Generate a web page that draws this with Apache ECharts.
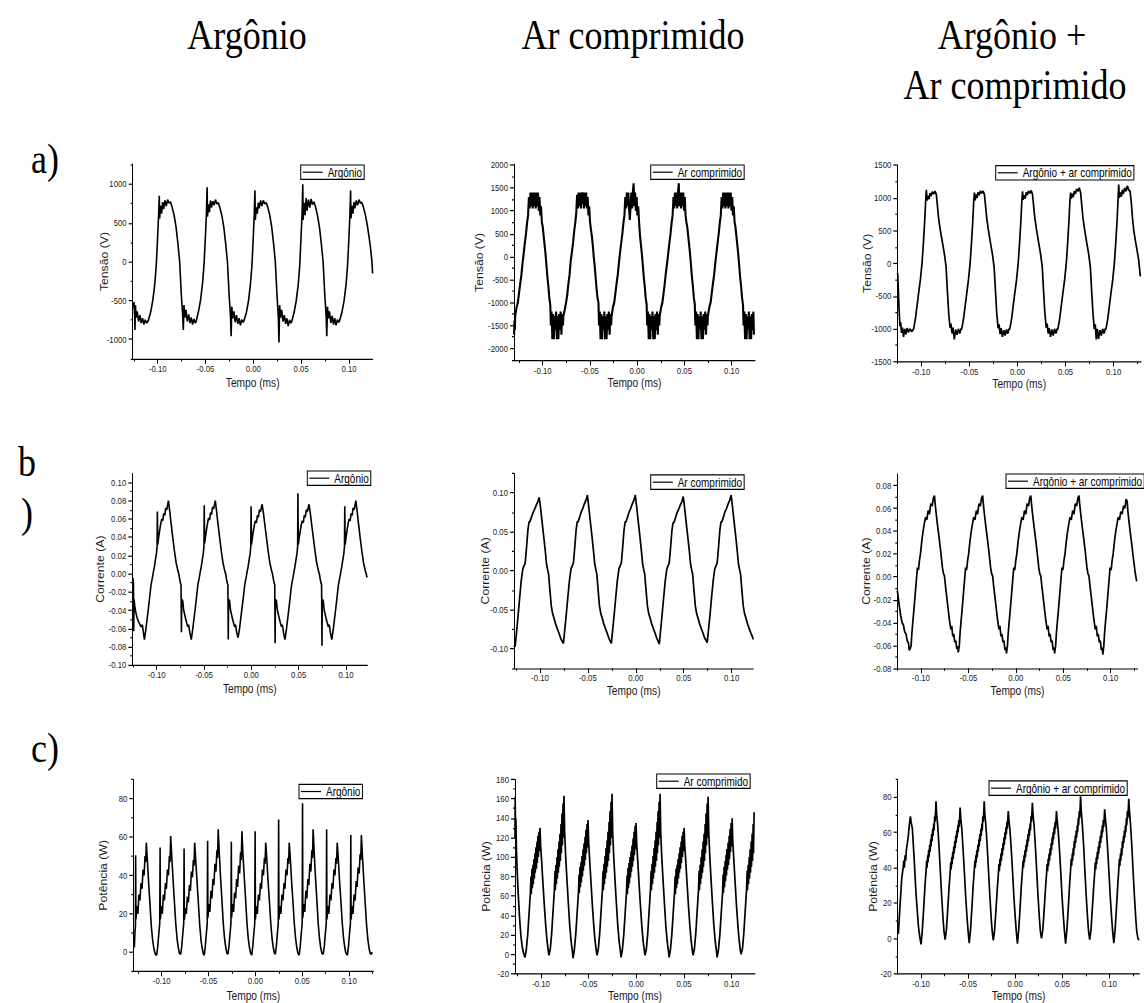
<!DOCTYPE html>
<html>
<head>
<meta charset="utf-8">
<script src="https://cdn.jsdelivr.net/npm/echarts@6/dist/echarts.min.js"></script>
<style>
  html, body { margin: 0; padding: 0; background: #fff; }
  #page { width: 1144px; height: 1003px; overflow: hidden; position: relative; }
  /* the figure is laid out 1144 x 836 and stretched vertically to fill 1003 px */
  #chart { position: absolute; left: 0; top: 0; width: 1144px; height: 836px; transform: scaleY(1.2); transform-origin: 0 0; }
</style>
</head>
<body>
<div id="page"><div id="chart"></div></div>
<script>
// ---------- labels ----------
const NAMES = ['Argônio', 'Ar comprimido', 'Argônio + ar comprimido'];
const Y_TITLES = ['Tensão (V)', 'Corrente (A)', 'Potência (W)'];
const X_TITLE = 'Tempo (ms)';

// ---------- tick values ----------
const xTicks = [-0.10, -0.05, 0, 0.05, 0.10];
const xMinorTicks = [-0.125, -0.075, -0.025, 0.025, 0.075, 0.125];

const tensaoArgonioTicks = [-1000, -500, 0, 500, 1000];
const tensaoArgonioMinor = [-1250, -750, -250, 250, 750, 1250];
const tensaoArTicks = [-2000, -1500, -1000, -500, 0, 500, 1000, 1500, 2000];
const tensaoArMinor = [-2250, -1750, -1250, -750, -250, 250, 750, 1250, 1750];
const tensaoMixTicks = [-1500, -1000, -500, 0, 500, 1000, 1500];
const tensaoMixMinor = [-1250, -750, -250, 250, 750, 1250];
const correnteArgonioTicks = [-0.10, -0.08, -0.06, -0.04, -0.02, 0, 0.02, 0.04, 0.06, 0.08, 0.10];
const correnteArgonioMinor = [-0.09, -0.07, -0.05, -0.03, -0.01, 0.01, 0.03, 0.05, 0.07, 0.09];
const correnteArTicks = [-0.10, -0.05, 0, 0.05, 0.10];
const correnteArMinor = [-0.125, -0.075, -0.025, 0.025, 0.075, 0.125];
const correnteMixTicks = [-0.08, -0.06, -0.04, -0.02, 0, 0.02, 0.04, 0.06, 0.08];
const correnteMixMinor = [-0.07, -0.05, -0.03, -0.01, 0.01, 0.03, 0.05, 0.07];
const potenciaArgonioTicks = [0, 20, 40, 60, 80];
const potenciaArgonioMinor = [-10, 10, 30, 50, 70, 90];
const potenciaArTicks = [-20, 0, 20, 40, 60, 80, 100, 120, 140, 160, 180];
const potenciaArMinor = [-10, 10, 30, 50, 70, 90, 110, 130, 150, 170];
const potenciaMixTicks = [-20, 0, 20, 40, 60, 80];
const potenciaMixMinor = [-10, 10, 30, 50, 70, 90];

// ---------- waveforms: [tempo (ms), valor] ----------
const tensaoArgonio = [
[-0.1254,-600],[-0.1247,-520],[-0.1241,-700],[-0.1237,-880],[-0.1233,-560],[-0.1225,-720],[-0.1214,-640],[-0.1200,-770],[-0.1186,-690],[-0.1172,-790],[-0.1158,-730],[-0.1144,-810],[-0.1130,-750],[-0.1114,-790],
[-0.1098,-760],[-0.1073,-650],[-0.1051,-500],[-0.1031,-300],[-0.1015,-50],[-0.1001,300],[-0.0991,580],[-0.0983,850],[-0.0979,560],[-0.0969,720],[-0.0959,620],[-0.0948,770],[-0.0938,680],[-0.0924,790],[-0.0910,720],[-0.0896,800],[-0.0882,760],[-0.0865,770],[-0.0848,700],[-0.0828,600],[-0.0808,450],[-0.0788,230],[-0.0770,0],[-0.0753,-420],[-0.0739,-680],[-0.0732,-880],[-0.0725,-560],[-0.0715,-720],[-0.0704,-620],[-0.0690,-770],[-0.0676,-680],[-0.0662,-790],[-0.0649,-720],[-0.0635,-810],[-0.0621,-740],[-0.0607,-790],
[-0.0598,-770],[-0.0573,-640],[-0.0551,-490],[-0.0531,-280],[-0.0515,-30],[-0.0501,320],[-0.0491,600],[-0.0483,960],[-0.0479,580],[-0.0469,740],[-0.0459,640],[-0.0448,790],[-0.0438,700],[-0.0424,780],[-0.0410,730],[-0.0396,800],[-0.0382,750],[-0.0365,760],[-0.0348,690],[-0.0328,590],[-0.0308,440],[-0.0288,220],[-0.0270,-10],[-0.0253,-430],[-0.0239,-690],[-0.0232,-960],[-0.0225,-580],[-0.0215,-730],[-0.0204,-640],[-0.0190,-780],[-0.0176,-690],[-0.0162,-800],[-0.0149,-730],[-0.0135,-820],[-0.0121,-750],[-0.0107,-780],
[-0.0098,-760],[-0.0073,-660],[-0.0051,-510],[-0.0031,-300],[-0.0015,-60],[-0.0001,300],[0.0009,590],[0.0017,920],[0.0021,540],[0.0031,700],[0.0041,620],[0.0052,760],[0.0062,690],[0.0076,790],[0.0090,720],[0.0104,790],[0.0118,750],[0.0135,760],[0.0152,700],[0.0172,600],[0.0192,450],[0.0212,230],[0.0230,0],[0.0247,-420],[0.0261,-700],[0.0268,-1040],[0.0275,-560],[0.0285,-720],[0.0296,-620],[0.0310,-770],[0.0324,-690],[0.0338,-800],[0.0351,-730],[0.0365,-830],[0.0379,-750],[0.0393,-790],
[0.0402,-770],[0.0427,-650],[0.0449,-500],[0.0469,-300],[0.0485,-50],[0.0499,320],[0.0509,600],[0.0517,1000],[0.0521,540],[0.0531,760],[0.0541,600],[0.0552,820],[0.0562,660],[0.0576,800],[0.0590,700],[0.0604,810],[0.0618,740],[0.0635,770],[0.0652,700],[0.0672,590],[0.0692,440],[0.0712,220],[0.0730,-10],[0.0747,-430],[0.0761,-690],[0.0768,-960],[0.0775,-580],[0.0785,-730],[0.0796,-640],[0.0810,-790],[0.0824,-700],[0.0838,-810],[0.0851,-730],[0.0865,-820],[0.0879,-750],[0.0893,-780],
[0.0902,-760],[0.0927,-650],[0.0949,-500],[0.0969,-300],[0.0985,-50],[0.0999,300],[0.1009,580],[0.1017,920],[0.1021,560],[0.1031,720],[0.1041,620],[0.1052,770],[0.1062,690],[0.1076,790],[0.1090,730],[0.1104,800],[0.1118,760],[0.1135,760],[0.1152,700],[0.1172,600],[0.1192,470],[0.1212,300],[0.1228,150],[0.1240,0],[0.1247,-150]
];

const tensaoAr = [
[-0.1303,-1700],[-0.1299,-1400],[-0.1295,-1600],
[-0.1292,-1300],[-0.1276,-1100],[-0.1263,-1000],[-0.1251,-800],[-0.1239,-600],[-0.1226,-400],[-0.1214,-150],[-0.1201,80],[-0.1189,300],[-0.1177,500],[-0.1165,750],[-0.1155,900],[-0.1146,1300],[-0.1138,1050],[-0.1130,1400],[-0.1122,1100],[-0.1114,1400],[-0.1106,1050],[-0.1098,1400],[-0.1090,1100],[-0.1082,1400],[-0.1074,1050],[-0.1066,1400],[-0.1058,1100],[-0.1050,1400],[-0.1042,1000],[-0.1034,1300],[-0.1026,900],[-0.1018,1100],[-0.1009,750],[-0.1000,650],[-0.0990,450],[-0.0980,250],[-0.0970,50],[-0.0960,-200],[-0.0950,-450],[-0.0940,-650],[-0.0930,-900],[-0.0920,-1050],[-0.0914,-1500],[-0.0906,-1200],[-0.0898,-1800],[-0.0890,-1250],[-0.0882,-1800],[-0.0874,-1300],[-0.0866,-1600],[-0.0858,-1200],[-0.0850,-1800],[-0.0842,-1300],[-0.0834,-1800],[-0.0826,-1250],[-0.0818,-1600],[-0.0810,-1200],[-0.0802,-1700],[-0.0794,-1250],[-0.0786,-1500],
[-0.0782,-1300],[-0.0766,-1150],[-0.0753,-1000],[-0.0741,-850],[-0.0729,-600],[-0.0716,-400],[-0.0704,-100],[-0.0691,100],[-0.0679,300],[-0.0667,550],[-0.0655,750],[-0.0645,950],[-0.0636,1350],[-0.0628,1050],[-0.0620,1400],[-0.0612,1100],[-0.0604,1400],[-0.0596,1050],[-0.0588,1400],[-0.0580,1150],[-0.0572,1400],[-0.0564,1050],[-0.0556,1400],[-0.0548,1100],[-0.0540,1400],[-0.0532,1050],[-0.0524,1300],[-0.0516,900],[-0.0508,1100],[-0.0499,750],[-0.0490,600],[-0.0480,450],[-0.0470,250],[-0.0460,0],[-0.0450,-200],[-0.0440,-450],[-0.0430,-700],[-0.0420,-900],[-0.0410,-1000],[-0.0404,-1500],[-0.0396,-1200],[-0.0388,-1800],[-0.0380,-1250],[-0.0372,-1800],[-0.0364,-1300],[-0.0356,-1600],[-0.0348,-1200],[-0.0340,-1800],[-0.0332,-1300],[-0.0324,-1800],[-0.0316,-1250],[-0.0308,-1600],[-0.0300,-1200],[-0.0292,-1700],[-0.0284,-1250],[-0.0276,-1500],
[-0.0272,-1300],[-0.0256,-1100],[-0.0243,-1000],[-0.0231,-800],[-0.0219,-600],[-0.0206,-400],[-0.0194,-150],[-0.0181,100],[-0.0169,300],[-0.0157,500],[-0.0145,750],[-0.0135,900],[-0.0126,1300],[-0.0118,1050],[-0.0110,1400],[-0.0102,1100],[-0.0094,1400],[-0.0086,1050],[-0.0078,800],[-0.0070,1100],[-0.0062,1400],[-0.0054,1050],[-0.0046,1400],[-0.0038,1600],[-0.0030,1100],[-0.0022,1400],[-0.0014,1000],[-0.0006,1300],[0.0002,900],[0.0011,1100],[0.0020,750],[0.0030,450],[0.0040,250],[0.0050,50],[0.0060,-200],[0.0070,-450],[0.0080,-650],[0.0090,-900],[0.0100,-1050],[0.0106,-1500],[0.0114,-1200],[0.0122,-1800],[0.0130,-1250],[0.0138,-1800],[0.0146,-1300],[0.0154,-1600],[0.0162,-1200],[0.0170,-1800],[0.0178,-1300],[0.0186,-1800],[0.0194,-1250],[0.0202,-1600],[0.0210,-1200],[0.0218,-1700],[0.0226,-1250],[0.0234,-1500],
[0.0238,-1300],[0.0254,-1100],[0.0267,-1000],[0.0279,-800],[0.0291,-600],[0.0304,-350],[0.0316,-150],[0.0329,80],[0.0341,300],[0.0353,500],[0.0365,750],[0.0375,900],[0.0384,1300],[0.0392,1050],[0.0400,1400],[0.0408,1100],[0.0416,1400],[0.0424,1050],[0.0432,1400],[0.0440,1600],[0.0448,1100],[0.0456,1400],[0.0464,1050],[0.0472,1400],[0.0480,1100],[0.0488,1400],[0.0496,1000],[0.0504,1300],[0.0512,900],[0.0521,750],[0.0530,650],[0.0540,450],[0.0550,250],[0.0560,50],[0.0570,-200],[0.0580,-450],[0.0590,-650],[0.0600,-900],[0.0610,-1050],[0.0616,-1500],[0.0624,-1200],[0.0632,-1800],[0.0640,-1250],[0.0648,-1800],[0.0656,-1300],[0.0664,-1600],[0.0672,-1200],[0.0680,-1800],[0.0688,-1300],[0.0696,-1800],[0.0704,-1250],[0.0712,-1600],[0.0720,-1200],[0.0728,-1700],[0.0736,-1250],[0.0744,-1500],
[0.0748,-1300],[0.0764,-1100],[0.0777,-1000],[0.0789,-800],[0.0801,-600],[0.0814,-400],[0.0826,-150],[0.0839,80],[0.0851,300],[0.0863,500],[0.0875,750],[0.0885,900],[0.0894,1300],[0.0902,1050],[0.0910,1400],[0.0918,1100],[0.0926,1400],[0.0934,1050],[0.0942,1400],[0.0950,1100],[0.0958,1400],[0.0966,1050],[0.0974,1400],[0.0982,1100],[0.0990,1400],[0.0998,1000],[0.1006,1300],[0.1014,900],[0.1022,1100],[0.1031,750],[0.1040,650],[0.1050,450],[0.1060,250],[0.1070,50],[0.1080,-200],[0.1090,-450],[0.1100,-650],[0.1110,-900],[0.1120,-1050],[0.1126,-1500],[0.1134,-1200],[0.1142,-1800],[0.1150,-1250],[0.1158,-1800],[0.1166,-1300],[0.1174,-1600],[0.1182,-1200],[0.1190,-1800],[0.1198,-1300],[0.1206,-1800],[0.1214,-1250],[0.1222,-1600],[0.1230,-1200],[0.1236,-1700]
];

const tensaoMix = [
[-0.1246,-150],[-0.1238,-450],[-0.1230,-750],[-0.1222,-960],[-0.1215,-900],[-0.1206,-1060],[-0.1196,-980],[-0.1185,-1120],[-0.1172,-1000],[-0.1160,-1080],[-0.1148,-990],[-0.1134,-1050],[-0.1120,-1000],[-0.1100,-1040],
[-0.1080,-1000],[-0.1062,-850],[-0.1045,-650],[-0.1028,-450],[-0.1010,-250],[-0.0993,0],[-0.0979,300],[-0.0965,650],[-0.0955,950],[-0.0948,1120],[-0.0941,960],[-0.0931,1030],[-0.0920,980],[-0.0910,1070],[-0.0899,1030],[-0.0886,1090],[-0.0872,1060],[-0.0858,1100],[-0.0844,1050],[-0.0834,900],[-0.0820,680],[-0.0802,500],[-0.0782,330],[-0.0761,150],[-0.0743,-50],[-0.0730,-400],[-0.0716,-750],[-0.0702,-980],[-0.0692,-920],[-0.0681,-1070],[-0.0671,-980],[-0.0657,-1160],[-0.0643,-1010],[-0.0629,-1090],[-0.0615,-1000],[-0.0601,-1070],[-0.0588,-1000],
[-0.0580,-1000],[-0.0562,-850],[-0.0545,-660],[-0.0528,-460],[-0.0510,-250],[-0.0493,0],[-0.0479,300],[-0.0465,650],[-0.0455,950],[-0.0448,1080],[-0.0441,960],[-0.0431,1050],[-0.0420,1000],[-0.0410,1080],[-0.0399,1040],[-0.0386,1100],[-0.0372,1070],[-0.0358,1100],[-0.0344,1050],[-0.0334,900],[-0.0320,690],[-0.0302,500],[-0.0282,320],[-0.0261,140],[-0.0243,-60],[-0.0230,-400],[-0.0216,-760],[-0.0202,-990],[-0.0192,-930],[-0.0181,-1080],[-0.0171,-990],[-0.0157,-1120],[-0.0143,-1020],[-0.0129,-1100],[-0.0115,-1010],[-0.0101,-1070],[-0.0088,-1000],
[-0.0080,-1000],[-0.0062,-850],[-0.0045,-650],[-0.0028,-450],[-0.0010,-250],[0.0007,0],[0.0021,300],[0.0035,650],[0.0045,950],[0.0052,1100],[0.0059,970],[0.0069,1040],[0.0080,990],[0.0090,1080],[0.0101,1040],[0.0114,1100],[0.0128,1070],[0.0142,1110],[0.0156,1050],[0.0166,900],[0.0180,690],[0.0198,510],[0.0218,330],[0.0239,150],[0.0257,-50],[0.0270,-400],[0.0284,-750],[0.0298,-980],[0.0308,-920],[0.0319,-1070],[0.0329,-990],[0.0343,-1120],[0.0357,-1010],[0.0371,-1100],[0.0385,-1000],[0.0399,-1070],[0.0412,-1000],
[0.0420,-1000],[0.0438,-850],[0.0455,-650],[0.0472,-450],[0.0490,-250],[0.0507,0],[0.0521,300],[0.0535,650],[0.0545,950],[0.0552,1080],[0.0559,990],[0.0569,1060],[0.0580,1010],[0.0590,1100],[0.0601,1060],[0.0614,1130],[0.0628,1100],[0.0642,1150],[0.0656,1080],[0.0666,920],[0.0680,700],[0.0698,510],[0.0718,330],[0.0739,150],[0.0757,-50],[0.0770,-400],[0.0784,-750],[0.0798,-1000],[0.0808,-930],[0.0819,-1160],[0.0829,-1000],[0.0843,-1150],[0.0857,-1020],[0.0871,-1100],[0.0885,-1000],[0.0899,-1070],[0.0912,-1000],
[0.0920,-1000],[0.0938,-850],[0.0955,-650],[0.0972,-450],[0.0990,-250],[0.1007,0],[0.1021,300],[0.1035,650],[0.1045,950],[0.1052,1200],[0.1059,1000],[0.1069,1080],[0.1080,1020],[0.1090,1120],[0.1101,1060],[0.1114,1150],[0.1128,1100],[0.1142,1180],[0.1156,1120],[0.1170,1100],[0.1182,950],[0.1195,700],[0.1208,510],[0.1225,350],[0.1243,200],[0.1260,50],[0.1277,-200]
];

const correnteArgonio = [
[-0.1257,-0.004],[-0.1250,-0.006],[-0.1246,-0.010],[-0.1243,-0.063],[-0.1240,-0.028],[-0.1232,-0.035],[-0.1222,-0.042],[-0.1208,-0.048],[-0.1194,-0.052],[-0.1180,-0.055],[-0.1165,-0.058],[-0.1152,-0.056],[-0.1141,-0.064],
[-0.1130,-0.072],[-0.1116,-0.062],[-0.1102,-0.050],[-0.1088,-0.038],[-0.1074,-0.025],[-0.1060,-0.012],[-0.1045,-0.004],[-0.1035,0.002],[-0.1024,0.008],[-0.1014,0.015],[-0.1003,0.022],[-0.0996,0.030],[-0.0993,0.068],[-0.0989,0.032],[-0.0979,0.040],[-0.0968,0.048],[-0.0957,0.055],[-0.0947,0.060],[-0.0936,0.058],[-0.0926,0.066],[-0.0915,0.064],[-0.0905,0.072],[-0.0894,0.070],[-0.0876,0.080],[-0.0862,0.068],[-0.0848,0.055],[-0.0831,0.040],[-0.0813,0.025],[-0.0795,0.012],[-0.0778,0.004],[-0.0767,0.000],[-0.0757,-0.006],[-0.0750,-0.010],[-0.0743,-0.012],[-0.0739,-0.064],[-0.0736,-0.028],[-0.0725,-0.030],[-0.0715,-0.040],[-0.0704,-0.045],[-0.0693,-0.050],[-0.0683,-0.054],[-0.0672,-0.058],[-0.0662,-0.056],[-0.0651,-0.064],
[-0.0635,-0.072],[-0.0621,-0.062],[-0.0607,-0.050],[-0.0593,-0.038],[-0.0579,-0.025],[-0.0565,-0.012],[-0.0550,-0.004],[-0.0540,0.002],[-0.0529,0.008],[-0.0519,0.015],[-0.0508,0.022],[-0.0501,0.030],[-0.0498,0.075],[-0.0494,0.033],[-0.0484,0.041],[-0.0473,0.049],[-0.0462,0.056],[-0.0452,0.061],[-0.0441,0.059],[-0.0431,0.067],[-0.0420,0.065],[-0.0410,0.073],[-0.0399,0.071],[-0.0381,0.080],[-0.0367,0.068],[-0.0353,0.055],[-0.0336,0.040],[-0.0318,0.025],[-0.0300,0.012],[-0.0283,0.004],[-0.0272,0.000],[-0.0262,-0.006],[-0.0255,-0.010],[-0.0248,-0.012],[-0.0244,-0.072],[-0.0241,-0.028],[-0.0230,-0.030],[-0.0220,-0.040],[-0.0209,-0.045],[-0.0198,-0.050],[-0.0188,-0.054],[-0.0177,-0.058],[-0.0167,-0.056],[-0.0156,-0.064],
[-0.0140,-0.070],[-0.0126,-0.061],[-0.0112,-0.049],[-0.0098,-0.037],[-0.0084,-0.025],[-0.0070,-0.012],[-0.0055,-0.004],[-0.0045,0.002],[-0.0034,0.008],[-0.0024,0.015],[-0.0013,0.022],[-0.0006,0.030],[-0.0003,0.074],[0.0001,0.032],[0.0011,0.040],[0.0022,0.047],[0.0033,0.054],[0.0043,0.058],[0.0054,0.056],[0.0064,0.064],[0.0075,0.062],[0.0085,0.070],[0.0096,0.068],[0.0114,0.076],[0.0128,0.066],[0.0142,0.054],[0.0159,0.040],[0.0177,0.025],[0.0195,0.012],[0.0212,0.004],[0.0223,0.000],[0.0233,-0.006],[0.0240,-0.010],[0.0247,-0.012],[0.0251,-0.076],[0.0254,-0.028],[0.0265,-0.030],[0.0275,-0.040],[0.0286,-0.045],[0.0297,-0.050],[0.0307,-0.054],[0.0318,-0.058],[0.0328,-0.056],[0.0339,-0.064],
[0.0355,-0.072],[0.0369,-0.062],[0.0383,-0.050],[0.0397,-0.038],[0.0411,-0.025],[0.0425,-0.012],[0.0440,-0.004],[0.0450,0.002],[0.0461,0.008],[0.0471,0.015],[0.0482,0.022],[0.0489,0.030],[0.0492,0.088],[0.0496,0.032],[0.0506,0.040],[0.0517,0.047],[0.0528,0.054],[0.0538,0.058],[0.0549,0.056],[0.0559,0.064],[0.0570,0.062],[0.0580,0.070],[0.0591,0.068],[0.0609,0.076],[0.0623,0.066],[0.0637,0.054],[0.0654,0.040],[0.0672,0.025],[0.0690,0.012],[0.0707,0.004],[0.0718,0.000],[0.0728,-0.006],[0.0735,-0.010],[0.0742,-0.012],[0.0746,-0.079],[0.0749,-0.028],[0.0760,-0.030],[0.0770,-0.040],[0.0781,-0.045],[0.0792,-0.050],[0.0802,-0.054],[0.0813,-0.058],[0.0823,-0.056],[0.0834,-0.064],
[0.0850,-0.072],[0.0864,-0.062],[0.0878,-0.050],[0.0892,-0.038],[0.0906,-0.025],[0.0920,-0.012],[0.0935,-0.004],[0.0945,0.002],[0.0956,0.008],[0.0966,0.015],[0.0977,0.022],[0.0984,0.030],[0.0987,0.074],[0.0991,0.032],[0.1001,0.040],[0.1012,0.048],[0.1023,0.055],[0.1033,0.060],[0.1044,0.058],[0.1054,0.066],[0.1065,0.064],[0.1075,0.072],[0.1086,0.070],[0.1104,0.080],[0.1118,0.068],[0.1132,0.055],[0.1149,0.040],[0.1167,0.025],[0.1185,0.012],[0.1202,0.004],[0.1213,0.000],[0.1222,-0.004]
];

const correnteAr = [
[-0.1271,-0.098],[-0.1265,-0.097],
[-0.1258,-0.096],[-0.1244,-0.078],[-0.1230,-0.060],[-0.1213,-0.036],[-0.1195,-0.012],[-0.1178,0.003],[-0.1164,0.007],[-0.1154,0.010],[-0.1140,0.030],[-0.1126,0.052],[-0.1115,0.062],[-0.1105,0.063],[-0.1091,0.068],[-0.1074,0.074],[-0.1056,0.079],[-0.1039,0.084],[-0.1021,0.089],[-0.1008,0.094],[-0.0994,0.081],[-0.0980,0.065],[-0.0962,0.045],[-0.0945,0.026],[-0.0931,0.008],[-0.0921,0.002],[-0.0910,-0.004],[-0.0896,-0.025],[-0.0882,-0.045],[-0.0868,-0.055],[-0.0855,-0.060],[-0.0837,-0.068],[-0.0820,-0.074],[-0.0802,-0.080],[-0.0785,-0.086],[-0.0771,-0.090],
[-0.0755,-0.093],[-0.0741,-0.075],[-0.0727,-0.058],[-0.0710,-0.035],[-0.0692,-0.012],[-0.0675,0.003],[-0.0661,0.007],[-0.0651,0.010],[-0.0637,0.030],[-0.0623,0.052],[-0.0612,0.062],[-0.0602,0.063],[-0.0588,0.068],[-0.0571,0.075],[-0.0553,0.080],[-0.0536,0.086],[-0.0518,0.091],[-0.0505,0.097],[-0.0491,0.082],[-0.0477,0.066],[-0.0459,0.046],[-0.0442,0.026],[-0.0428,0.008],[-0.0418,0.002],[-0.0407,-0.004],[-0.0393,-0.025],[-0.0379,-0.045],[-0.0365,-0.055],[-0.0352,-0.060],[-0.0334,-0.068],[-0.0317,-0.074],[-0.0299,-0.080],[-0.0282,-0.086],[-0.0268,-0.090],
[-0.0255,-0.093],[-0.0241,-0.075],[-0.0227,-0.058],[-0.0210,-0.035],[-0.0192,-0.012],[-0.0175,0.003],[-0.0161,0.007],[-0.0151,0.010],[-0.0137,0.030],[-0.0123,0.052],[-0.0112,0.062],[-0.0102,0.063],[-0.0088,0.068],[-0.0071,0.075],[-0.0053,0.080],[-0.0036,0.086],[-0.0018,0.091],[-0.0005,0.097],[0.0009,0.082],[0.0023,0.066],[0.0041,0.046],[0.0058,0.026],[0.0072,0.008],[0.0082,0.002],[0.0093,-0.004],[0.0107,-0.025],[0.0121,-0.045],[0.0135,-0.055],[0.0148,-0.060],[0.0166,-0.068],[0.0183,-0.074],[0.0201,-0.080],[0.0218,-0.086],[0.0232,-0.090],
[0.0245,-0.094],[0.0259,-0.076],[0.0273,-0.058],[0.0290,-0.035],[0.0308,-0.012],[0.0325,0.003],[0.0339,0.007],[0.0349,0.010],[0.0363,0.030],[0.0377,0.052],[0.0388,0.061],[0.0398,0.062],[0.0412,0.067],[0.0429,0.074],[0.0447,0.079],[0.0464,0.084],[0.0482,0.089],[0.0495,0.095],[0.0509,0.081],[0.0523,0.065],[0.0541,0.045],[0.0558,0.026],[0.0572,0.008],[0.0582,0.002],[0.0593,-0.004],[0.0607,-0.025],[0.0621,-0.045],[0.0635,-0.055],[0.0648,-0.060],[0.0666,-0.068],[0.0683,-0.074],[0.0701,-0.080],[0.0718,-0.086],[0.0732,-0.089],
[0.0745,-0.092],[0.0759,-0.075],[0.0773,-0.058],[0.0790,-0.035],[0.0808,-0.012],[0.0825,0.003],[0.0839,0.007],[0.0849,0.010],[0.0863,0.030],[0.0877,0.052],[0.0888,0.062],[0.0898,0.063],[0.0912,0.068],[0.0929,0.075],[0.0947,0.080],[0.0964,0.086],[0.0982,0.091],[0.0995,0.097],[0.1009,0.082],[0.1023,0.066],[0.1041,0.046],[0.1058,0.026],[0.1072,0.008],[0.1082,0.002],[0.1093,-0.004],[0.1107,-0.025],[0.1121,-0.045],[0.1135,-0.055],[0.1148,-0.060],[0.1166,-0.068],[0.1183,-0.074],[0.1201,-0.080],[0.1218,-0.085],[0.1226,-0.088]
];

const correnteMix = [
[-0.1250,-0.012],[-0.1240,-0.018],[-0.1228,-0.026],[-0.1214,-0.034],[-0.1200,-0.040],[-0.1186,-0.042],[-0.1172,-0.048],[-0.1158,-0.050],[-0.1145,-0.056],[-0.1132,-0.058],[-0.1124,-0.064],
[-0.1115,-0.063],[-0.1104,-0.060],[-0.1097,-0.050],[-0.1087,-0.040],[-0.1076,-0.030],[-0.1062,-0.016],[-0.1048,-0.002],[-0.1038,0.008],[-0.1027,0.006],[-0.1017,0.014],[-0.1006,0.020],[-0.0992,0.031],[-0.0978,0.040],[-0.0964,0.047],[-0.0953,0.052],[-0.0939,0.050],[-0.0925,0.058],[-0.0911,0.055],[-0.0897,0.064],[-0.0883,0.062],[-0.0869,0.069],[-0.0858,0.071],[-0.0851,0.064],[-0.0841,0.056],[-0.0827,0.046],[-0.0809,0.034],[-0.0792,0.022],[-0.0774,0.008],[-0.0764,0.003],[-0.0753,0.001],[-0.0742,-0.008],[-0.0728,-0.018],[-0.0714,-0.028],[-0.0700,-0.038],[-0.0686,-0.046],[-0.0676,-0.043],[-0.0665,-0.052],[-0.0655,-0.050],[-0.0644,-0.057],[-0.0633,-0.056],[-0.0623,-0.063],[-0.0612,-0.061],
[-0.0607,-0.066],[-0.0596,-0.060],[-0.0589,-0.050],[-0.0579,-0.040],[-0.0568,-0.030],[-0.0554,-0.016],[-0.0540,-0.002],[-0.0530,0.008],[-0.0519,0.006],[-0.0509,0.014],[-0.0498,0.020],[-0.0484,0.031],[-0.0470,0.040],[-0.0456,0.047],[-0.0445,0.052],[-0.0431,0.050],[-0.0417,0.058],[-0.0403,0.055],[-0.0389,0.064],[-0.0375,0.062],[-0.0361,0.069],[-0.0350,0.071],[-0.0343,0.064],[-0.0333,0.056],[-0.0319,0.046],[-0.0301,0.034],[-0.0284,0.022],[-0.0266,0.008],[-0.0256,0.003],[-0.0245,0.001],[-0.0234,-0.008],[-0.0220,-0.018],[-0.0206,-0.028],[-0.0192,-0.038],[-0.0178,-0.046],[-0.0168,-0.043],[-0.0157,-0.052],[-0.0147,-0.050],[-0.0136,-0.057],[-0.0125,-0.056],[-0.0115,-0.064],[-0.0104,-0.062],
[-0.0099,-0.067],[-0.0088,-0.060],[-0.0081,-0.050],[-0.0071,-0.040],[-0.0060,-0.030],[-0.0046,-0.016],[-0.0032,-0.002],[-0.0022,0.008],[-0.0011,0.006],[-0.0001,0.014],[0.0010,0.020],[0.0024,0.031],[0.0038,0.040],[0.0052,0.047],[0.0063,0.052],[0.0077,0.050],[0.0091,0.058],[0.0105,0.055],[0.0119,0.064],[0.0133,0.062],[0.0147,0.069],[0.0158,0.071],[0.0165,0.064],[0.0175,0.056],[0.0189,0.046],[0.0207,0.034],[0.0224,0.022],[0.0242,0.008],[0.0252,0.003],[0.0263,0.001],[0.0274,-0.008],[0.0288,-0.018],[0.0302,-0.028],[0.0316,-0.038],[0.0330,-0.046],[0.0340,-0.043],[0.0351,-0.052],[0.0361,-0.050],[0.0372,-0.057],[0.0383,-0.056],[0.0393,-0.064],[0.0404,-0.062],
[0.0409,-0.067],[0.0420,-0.060],[0.0427,-0.050],[0.0437,-0.040],[0.0448,-0.030],[0.0462,-0.016],[0.0476,-0.002],[0.0486,0.008],[0.0497,0.006],[0.0507,0.014],[0.0518,0.020],[0.0532,0.031],[0.0546,0.040],[0.0560,0.047],[0.0571,0.052],[0.0585,0.050],[0.0599,0.058],[0.0613,0.055],[0.0627,0.064],[0.0641,0.062],[0.0655,0.069],[0.0666,0.071],[0.0673,0.064],[0.0683,0.056],[0.0697,0.046],[0.0715,0.034],[0.0732,0.022],[0.0750,0.008],[0.0760,0.003],[0.0771,0.001],[0.0782,-0.008],[0.0796,-0.018],[0.0810,-0.028],[0.0824,-0.038],[0.0838,-0.046],[0.0848,-0.043],[0.0859,-0.052],[0.0869,-0.050],[0.0880,-0.057],[0.0891,-0.056],[0.0901,-0.064],[0.0912,-0.062],
[0.0917,-0.068],[0.0928,-0.060],[0.0935,-0.050],[0.0945,-0.040],[0.0956,-0.030],[0.0970,-0.016],[0.0984,-0.002],[0.0994,0.008],[0.1005,0.006],[0.1015,0.014],[0.1026,0.020],[0.1040,0.031],[0.1054,0.040],[0.1068,0.047],[0.1079,0.052],[0.1093,0.050],[0.1107,0.057],[0.1121,0.055],[0.1135,0.062],[0.1149,0.060],[0.1163,0.068],[0.1174,0.066],[0.1181,0.058],[0.1191,0.050],[0.1205,0.040],[0.1223,0.028],[0.1240,0.016],[0.1258,0.004],[0.1274,-0.004]
];

const potenciaArgonio = [
[-0.1292,2.5],[-0.1286,10],[-0.1280,14],[-0.1278,50.5],[-0.1275,17],[-0.1264,24],[-0.1254,20],[-0.1243,30],[-0.1232,27],[-0.1221,36],[-0.1210,33],[-0.1199,43],[-0.1188,40],[-0.1178,50],[-0.1171,47],[-0.1164,57],[-0.1153,48],[-0.1139,36],[-0.1124,24],[-0.1110,13],[-0.1096,6],[-0.1082,1.5],[-0.1068,-1],
[-0.1053,-1.5],[-0.1042,3],[-0.1032,9],[-0.1021,15],[-0.1017,54.5],[-0.1014,17],[-0.1003,24],[-0.0993,20],[-0.0982,30],[-0.0971,27],[-0.0960,36],[-0.0950,33],[-0.0939,43],[-0.0928,40],[-0.0918,50],[-0.0911,47],[-0.0904,60.5],[-0.0893,50],[-0.0879,38],[-0.0864,26],[-0.0850,15],[-0.0836,7],[-0.0822,2],[-0.0811,-0.5],
[-0.0797,-1],[-0.0786,3],[-0.0776,9],[-0.0765,15],[-0.0761,54],[-0.0758,17],[-0.0747,23],[-0.0737,20],[-0.0726,29],[-0.0715,26],[-0.0704,35],[-0.0694,32],[-0.0683,42],[-0.0672,39],[-0.0662,48],[-0.0655,45],[-0.0648,57],[-0.0637,48],[-0.0623,37],[-0.0608,25],[-0.0594,14],[-0.0580,6],[-0.0566,1.5],[-0.0555,-1],
[-0.0546,-1.5],[-0.0535,3],[-0.0525,9],[-0.0514,15],[-0.0510,58],[-0.0507,18],[-0.0496,25],[-0.0486,21],[-0.0475,32],[-0.0464,28],[-0.0453,38],[-0.0443,35],[-0.0432,46],[-0.0421,42],[-0.0411,53],[-0.0404,49],[-0.0397,64],[-0.0386,52],[-0.0372,39],[-0.0357,27],[-0.0343,15],[-0.0329,7],[-0.0315,2],[-0.0304,-0.5],
[-0.0293,-1],[-0.0282,3],[-0.0272,9],[-0.0261,15],[-0.0257,57.5],[-0.0254,18],[-0.0243,25],[-0.0233,21],[-0.0222,31],[-0.0211,28],[-0.0200,38],[-0.0190,34],[-0.0179,45],[-0.0168,41],[-0.0158,52],[-0.0151,48],[-0.0144,63],[-0.0133,51],[-0.0119,39],[-0.0104,27],[-0.0090,15],[-0.0076,7],[-0.0062,2],[-0.0051,-0.5],
[-0.0039,-1.5],[-0.0028,3],[-0.0018,9],[-0.0007,15],[-0.0003,63],[0.0000,17],[0.0011,24],[0.0021,20],[0.0032,30],[0.0043,27],[0.0054,36],[0.0064,33],[0.0075,43],[0.0086,40],[0.0096,49],[0.0103,46],[0.0110,57],[0.0121,49],[0.0135,37],[0.0150,26],[0.0164,15],[0.0178,7],[0.0192,2],[0.0203,-0.5],
[0.0212,-1],[0.0223,3],[0.0233,9],[0.0244,15],[0.0248,69],[0.0251,17],[0.0262,24],[0.0272,20],[0.0283,30],[0.0294,27],[0.0305,36],[0.0315,33],[0.0326,43],[0.0337,40],[0.0347,49],[0.0354,46],[0.0361,57],[0.0372,49],[0.0386,37],[0.0401,26],[0.0415,15],[0.0429,7],[0.0443,2],[0.0454,-0.5],
[0.0467,-1.5],[0.0478,3],[0.0488,9],[0.0499,15],[0.0503,77.5],[0.0506,18],[0.0517,25],[0.0527,21],[0.0538,32],[0.0549,28],[0.0560,38],[0.0570,35],[0.0581,46],[0.0592,42],[0.0602,53],[0.0609,49],[0.0616,64],[0.0627,52],[0.0641,39],[0.0656,27],[0.0670,15],[0.0684,7],[0.0698,2],[0.0709,-0.5],
[0.0724,-1],[0.0735,3],[0.0745,9],[0.0756,15],[0.0760,64],[0.0763,17],[0.0774,24],[0.0784,20],[0.0795,30],[0.0806,27],[0.0817,36],[0.0827,33],[0.0838,43],[0.0849,40],[0.0859,49],[0.0866,46],[0.0873,57],[0.0884,49],[0.0898,37],[0.0913,26],[0.0927,15],[0.0941,7],[0.0955,2],[0.0966,-0.5],
[0.0982,-1.5],[0.0993,3],[0.1003,9],[0.1014,15],[0.1018,61],[0.1021,17],[0.1032,24],[0.1042,20],[0.1053,30],[0.1064,27],[0.1075,37],[0.1085,34],[0.1096,44],[0.1107,41],[0.1117,51],[0.1124,48],[0.1131,61],[0.1142,50],[0.1156,38],[0.1171,26],[0.1185,15],[0.1199,7],[0.1213,2],[0.1224,-0.5],[0.1238,-1],[0.1245,0]
];

const potenciaAr = [
[-0.1273,120],[-0.1271,162],[-0.1268,128],[-0.1264,140],[-0.1258,108],[-0.1250,85],[-0.1238,60],[-0.1224,36],[-0.1210,18],[-0.1196,7],[-0.1182,1],
[-0.1168,-3],[-0.1154,5],[-0.1140,20],[-0.1130,35],[-0.1119,52],[-0.1112,62],[-0.1105,80],[-0.1102,62],[-0.1095,88],[-0.1091,68],[-0.1084,92],[-0.1081,72],[-0.1074,98],[-0.1070,78],[-0.1063,104],[-0.1060,84],[-0.1053,110],[-0.1049,88],[-0.1042,116],[-0.1039,94],[-0.1032,122],[-0.1028,100],[-0.1021,126],[-0.1018,106],[-0.1011,130],[-0.1004,112],[-0.0993,95],[-0.0979,72],[-0.0965,50],[-0.0951,30],[-0.0937,14],[-0.0923,3],
[-0.0916,-1],[-0.0902,6],[-0.0888,22],[-0.0878,38],[-0.0867,55],[-0.0860,66],[-0.0853,86],[-0.0850,66],[-0.0843,92],[-0.0839,72],[-0.0832,100],[-0.0829,78],[-0.0822,108],[-0.0818,84],[-0.0811,116],[-0.0808,90],[-0.0801,124],[-0.0797,96],[-0.0790,134],[-0.0787,104],[-0.0780,145],[-0.0776,112],[-0.0769,155],[-0.0766,120],[-0.0759,163],[-0.0752,125],[-0.0741,100],[-0.0727,75],[-0.0713,52],[-0.0699,30],[-0.0685,14],[-0.0671,3],
[-0.0664,-4],[-0.0650,5],[-0.0636,20],[-0.0626,35],[-0.0615,52],[-0.0608,62],[-0.0601,82],[-0.0598,63],[-0.0591,90],[-0.0587,69],[-0.0580,95],[-0.0577,74],[-0.0570,101],[-0.0566,80],[-0.0559,108],[-0.0556,86],[-0.0549,114],[-0.0545,91],[-0.0538,121],[-0.0535,97],[-0.0528,128],[-0.0524,104],[-0.0517,134],[-0.0514,110],[-0.0507,138],[-0.0500,115],[-0.0489,96],[-0.0475,73],[-0.0461,50],[-0.0447,30],[-0.0433,14],[-0.0419,3],
[-0.0412,-1],[-0.0398,6],[-0.0384,22],[-0.0374,38],[-0.0363,55],[-0.0356,66],[-0.0349,86],[-0.0346,66],[-0.0339,93],[-0.0335,72],[-0.0328,101],[-0.0325,78],[-0.0318,109],[-0.0314,84],[-0.0307,117],[-0.0304,90],[-0.0297,126],[-0.0293,96],[-0.0286,136],[-0.0283,104],[-0.0276,147],[-0.0272,112],[-0.0265,157],[-0.0262,120],[-0.0255,165],[-0.0248,125],[-0.0237,100],[-0.0223,75],[-0.0209,52],[-0.0195,30],[-0.0181,14],[-0.0167,3],
[-0.0160,-3],[-0.0146,5],[-0.0132,20],[-0.0122,35],[-0.0111,52],[-0.0104,62],[-0.0097,81],[-0.0094,62],[-0.0087,89],[-0.0083,68],[-0.0076,94],[-0.0073,73],[-0.0066,100],[-0.0062,79],[-0.0055,106],[-0.0052,85],[-0.0045,112],[-0.0041,90],[-0.0034,119],[-0.0031,96],[-0.0024,126],[-0.0020,102],[-0.0013,132],[-0.0010,108],[-0.0003,135],[0.0004,114],[0.0015,96],[0.0029,72],[0.0043,50],[0.0057,30],[0.0071,14],[0.0085,3],
[0.0092,-1],[0.0106,6],[0.0120,22],[0.0130,38],[0.0141,55],[0.0148,66],[0.0155,86],[0.0158,66],[0.0165,93],[0.0169,72],[0.0176,101],[0.0179,78],[0.0186,109],[0.0190,84],[0.0197,117],[0.0200,90],[0.0207,126],[0.0211,96],[0.0218,136],[0.0221,104],[0.0228,147],[0.0232,112],[0.0239,157],[0.0242,120],[0.0249,165],[0.0256,125],[0.0267,100],[0.0281,75],[0.0295,52],[0.0309,30],[0.0323,14],[0.0337,3],
[0.0344,-3],[0.0358,5],[0.0372,20],[0.0382,35],[0.0393,52],[0.0400,62],[0.0407,80],[0.0410,62],[0.0417,88],[0.0421,68],[0.0428,92],[0.0431,72],[0.0438,98],[0.0442,78],[0.0449,104],[0.0452,84],[0.0459,110],[0.0463,88],[0.0470,116],[0.0473,94],[0.0480,122],[0.0484,100],[0.0491,126],[0.0494,106],[0.0501,130],[0.0508,112],[0.0519,95],[0.0533,72],[0.0547,50],[0.0561,30],[0.0575,14],[0.0589,3],
[0.0596,-1],[0.0610,6],[0.0624,22],[0.0634,38],[0.0645,55],[0.0652,66],[0.0659,86],[0.0662,66],[0.0669,92],[0.0673,72],[0.0680,100],[0.0683,78],[0.0690,108],[0.0694,84],[0.0701,116],[0.0704,90],[0.0711,124],[0.0715,96],[0.0722,134],[0.0725,104],[0.0732,145],[0.0736,112],[0.0743,155],[0.0746,120],[0.0753,162],[0.0760,125],[0.0771,100],[0.0785,75],[0.0799,52],[0.0813,30],[0.0827,14],[0.0841,3],
[0.0848,-3],[0.0862,5],[0.0876,20],[0.0886,35],[0.0897,52],[0.0904,62],[0.0911,82],[0.0914,63],[0.0921,90],[0.0925,69],[0.0932,96],[0.0935,75],[0.0942,102],[0.0946,81],[0.0949,108],[0.0956,87],[0.0963,115],[0.0967,92],[0.0974,122],[0.0977,98],[0.0984,129],[0.0988,105],[0.0995,135],[0.0998,111],[0.1005,140],[0.1012,116],[0.1023,97],[0.1037,73],[0.1051,50],[0.1065,30],[0.1079,14],[0.1093,3],
[0.1100,0],[0.1114,6],[0.1128,22],[0.1138,38],[0.1149,55],[0.1156,66],[0.1163,86],[0.1166,66],[0.1173,92],[0.1177,72],[0.1184,100],[0.1187,78],[0.1194,108],[0.1198,84],[0.1205,116],[0.1208,90],[0.1215,124],[0.1219,96],[0.1226,134],[0.1229,104],[0.1236,146]
];

const potenciaMix = [
[-0.1241,2.6],[-0.1223,19],[-0.1205,34],[-0.1190,40],[-0.1184,44],[-0.1177,40],[-0.1170,47],[-0.1163,44],[-0.1156,50],[-0.1145,54],[-0.1135,58],[-0.1125,64],[-0.1113,69],[-0.1106,66],[-0.1092,62],[-0.1074,46],[-0.1053,25],[-0.1028,7],[-0.1014,1],
[-0.1000,-3.3],[-0.0986,5],[-0.0972,17],[-0.0958,30],[-0.0947,38],[-0.0940,44],[-0.0936,40],[-0.0929,47],[-0.0926,43],[-0.0919,50],[-0.0915,46],[-0.0908,53],[-0.0904,49],[-0.0897,56],[-0.0894,52],[-0.0887,59],[-0.0883,55],[-0.0876,62],[-0.0873,58],[-0.0865,65],[-0.0862,61],[-0.0855,69],[-0.0851,66],[-0.0844,73],[-0.0841,77.6],[-0.0834,70],[-0.0823,64],[-0.0809,52],[-0.0795,38],[-0.0781,24],[-0.0766,11],[-0.0756,4],
[-0.0744,-0.7],[-0.0730,5],[-0.0716,17],[-0.0702,29],[-0.0691,37],[-0.0684,43],[-0.0680,39],[-0.0673,46],[-0.0670,42],[-0.0663,49],[-0.0659,45],[-0.0652,52],[-0.0648,48],[-0.0641,55],[-0.0638,51],[-0.0631,58],[-0.0627,54],[-0.0620,61],[-0.0617,57],[-0.0609,64],[-0.0606,60],[-0.0599,67],[-0.0595,63],[-0.0588,70],[-0.0585,74],[-0.0578,68],[-0.0567,62],[-0.0553,50],[-0.0539,37],[-0.0525,23],[-0.0510,11],[-0.0500,4],
[-0.0488,-2.6],[-0.0474,5],[-0.0460,17],[-0.0446,30],[-0.0435,38],[-0.0428,44],[-0.0424,40],[-0.0417,47],[-0.0414,43],[-0.0407,50],[-0.0403,46],[-0.0396,53],[-0.0392,49],[-0.0385,56],[-0.0382,52],[-0.0375,59],[-0.0371,55],[-0.0364,62],[-0.0361,58],[-0.0353,65],[-0.0350,61],[-0.0343,69],[-0.0339,66],[-0.0332,73],[-0.0329,77.6],[-0.0322,70],[-0.0311,64],[-0.0297,52],[-0.0283,38],[-0.0269,24],[-0.0254,11],[-0.0244,4],
[-0.0232,-1.1],[-0.0218,5],[-0.0204,16],[-0.0190,28],[-0.0179,36],[-0.0172,42],[-0.0168,38],[-0.0161,45],[-0.0158,41],[-0.0151,48],[-0.0147,44],[-0.0140,51],[-0.0136,47],[-0.0129,54],[-0.0126,50],[-0.0119,57],[-0.0115,53],[-0.0108,60],[-0.0105,56],[-0.0097,63],[-0.0094,59],[-0.0087,66],[-0.0083,62],[-0.0076,69],[-0.0073,72],[-0.0066,67],[-0.0055,61],[-0.0041,50],[-0.0027,37],[-0.0013,23],[0.0002,11],[0.0012,4],
[0.0024,-3],[0.0038,5],[0.0052,17],[0.0066,30],[0.0077,38],[0.0084,44],[0.0088,40],[0.0095,47],[0.0098,43],[0.0105,50],[0.0109,46],[0.0116,53],[0.0120,49],[0.0127,56],[0.0130,52],[0.0137,59],[0.0141,55],[0.0148,62],[0.0151,58],[0.0159,65],[0.0162,61],[0.0169,69],[0.0173,66],[0.0180,73],[0.0183,76.7],[0.0190,70],[0.0201,64],[0.0215,52],[0.0229,38],[0.0243,24],[0.0258,11],[0.0268,4],
[0.0280,0],[0.0294,5],[0.0308,16],[0.0322,28],[0.0333,36],[0.0340,42],[0.0344,38],[0.0351,45],[0.0354,41],[0.0361,48],[0.0365,44],[0.0372,51],[0.0376,47],[0.0383,54],[0.0386,50],[0.0393,57],[0.0397,53],[0.0404,60],[0.0407,56],[0.0415,63],[0.0418,59],[0.0425,66],[0.0429,62],[0.0436,69],[0.0439,72],[0.0446,67],[0.0457,61],[0.0471,50],[0.0485,37],[0.0499,23],[0.0514,11],[0.0524,4],
[0.0536,-3],[0.0550,5],[0.0564,17],[0.0578,30],[0.0589,39],[0.0596,45],[0.0600,41],[0.0607,48],[0.0610,44],[0.0617,51],[0.0621,47],[0.0628,55],[0.0632,51],[0.0639,58],[0.0642,54],[0.0649,61],[0.0653,57],[0.0660,64],[0.0663,60],[0.0671,68],[0.0674,64],[0.0681,72],[0.0685,68],[0.0692,76],[0.0695,80.4],[0.0702,72],[0.0713,65],[0.0727,53],[0.0741,38],[0.0755,24],[0.0770,11],[0.0780,4],
[0.0792,-0.7],[0.0806,5],[0.0820,17],[0.0834,29],[0.0845,37],[0.0852,43],[0.0856,39],[0.0863,46],[0.0866,42],[0.0873,49],[0.0877,45],[0.0884,52],[0.0888,48],[0.0895,55],[0.0898,51],[0.0905,58],[0.0909,54],[0.0916,61],[0.0919,57],[0.0927,64],[0.0930,60],[0.0937,67],[0.0941,63],[0.0948,70],[0.0951,73],[0.0958,68],[0.0969,62],[0.0983,50],[0.0997,37],[0.1011,23],[0.1026,11],[0.1036,4],
[0.1048,-2.6],[0.1062,5],[0.1076,17],[0.1090,30],[0.1101,39],[0.1108,45],[0.1112,41],[0.1119,48],[0.1122,44],[0.1129,51],[0.1133,47],[0.1140,55],[0.1144,51],[0.1151,58],[0.1154,54],[0.1161,61],[0.1165,57],[0.1172,64],[0.1175,60],[0.1183,68],[0.1186,64],[0.1193,72],[0.1197,68],[0.1204,75],[0.1207,79],[0.1214,72],[0.1225,65],[0.1239,53],[0.1253,38],[0.1267,24],[0.1282,11],[0.1292,4],[0.1304,0],[0.1316,-1]
];

// ---------- panel layout (pixels of the 1144 x 836 canvas) ----------
const panels = [
  { data: tensaoArgonio, name: NAMES[0], yName: Y_TITLES[0], x: [-0.1261, 0.1248], y: [-1255, 1260], yTicks: tensaoArgonioTicks, yMinor: tensaoArgonioMinor, dec: 0,
    box: [132.7, 136.7, 240, 162.5], legend: [300.7, 137.5], yGap: 23, xGap: 14.5, lw: 1.6 },
  { data: tensaoAr, name: NAMES[1], yName: Y_TITLES[0], x: [-0.1304, 0.1247], y: [-2270, 2020], yTicks: tensaoArTicks, yMinor: tensaoArMinor, dec: 0,
    box: [514, 136.7, 241, 163.9], legend: [650.7, 137.5], yGap: 29.5, xGap: 13.5, lw: 2.1 },
  { data: tensaoMix, name: NAMES[2], yName: Y_TITLES[0], x: [-0.1250, 0.1285], y: [-1500, 1500], yTicks: tensaoMixTicks, yMinor: tensaoMixMinor, dec: 0,
    box: [897.3, 137.5, 243.8, 163.9], legend: [995.7, 138], yGap: 25, xGap: 13.5, lw: 1.7 },
  { data: correnteArgonio, name: NAMES[0], yName: Y_TITLES[1], x: [-0.1258, 0.1225], y: [-0.10, 0.11], yTicks: correnteArgonioTicks, yMinor: correnteArgonioMinor, dec: 2,
    box: [132.3, 394.4, 235, 159.8], legend: [307.3, 392.5], yGap: 26.8, xGap: 15, lw: 1.6 },
  { data: correnteAr, name: NAMES[1], yName: Y_TITLES[1], x: [-0.1271, 0.1226], y: [-0.125, 0.125], yTicks: correnteArTicks, yMinor: correnteArMinor, dec: 2,
    box: [514, 394.4, 239.3, 162.5], legend: [650.7, 395.8], yGap: 23.7, xGap: 13.5, lw: 1.7 },
  { data: correnteMix, name: NAMES[2], yName: Y_TITLES[1], x: [-0.1250, 0.1285], y: [-0.08, 0.09], yTicks: correnteMixTicks, yMinor: correnteMixMinor, dec: 2,
    box: [897.3, 395, 240.4, 161.9], legend: [1006, 395], yGap: 26, xGap: 13.5, lw: 1.7 },
  { data: potenciaArgonio, name: NAMES[0], yName: Y_TITLES[2], x: [-0.1303, 0.1258], y: [-10, 90], yTicks: potenciaArgonioTicks, yMinor: potenciaArgonioMinor, dec: 0,
    box: [133.3, 649.4, 240, 162.5], legend: [299, 653.6], yGap: 24.5, xGap: 15.5, lw: 1.6 },
  { data: potenciaAr, name: NAMES[1], yName: Y_TITLES[2], x: [-0.1273, 0.1245], y: [-20, 180], yTicks: potenciaArTicks, yMinor: potenciaArMinor, dec: 0,
    box: [515, 649.4, 240, 163.1], legend: [656.7, 645], yGap: 23.8, xGap: 13.5, lw: 1.7 },
  { data: potenciaMix, name: NAMES[2], yName: Y_TITLES[2], x: [-0.1248, 0.1320], y: [-20, 90], yTicks: potenciaMixTicks, yMinor: potenciaMixMinor, dec: 0,
    box: [897.7, 649.4, 241.7, 165], legend: [989, 650.8], yGap: 19.7, xGap: 13.5, lw: 1.7 }
];

const SANS = '"Liberation Sans", Arial, sans-serif';
const SERIF = '"Liberation Serif", "Times New Roman", serif';
const INK = '#1a1a1a';

const grids = [], xAxes = [], yAxes = [], series = [], legends = [];

panels.forEach((p, i) => {
  grids.push({ left: p.box[0], top: p.box[1], width: p.box[2], height: p.box[3], containLabel: false });

  const inRange = (arr, r) => arr.filter(v => v >= r[0] - 1e-9 && v <= r[1] + 1e-9);

  // main x axis: line, major ticks, labels, title
  xAxes.push({
    type: 'value', gridIndex: i, position: 'bottom', min: p.x[0], max: p.x[1],
    axisLine: { show: true, onZero: false, lineStyle: { color: '#000', width: 1 } },
    axisTick: { show: true, inside: false, length: 4, customValues: inRange(xTicks, p.x), lineStyle: { color: '#000', width: 1 } },
    axisLabel: { show: true, customValues: inRange(xTicks, p.x), formatter: v => v.toFixed(2), fontSize: 7.8, fontFamily: SANS, color: INK, margin: 4 },
    splitLine: { show: false },
    name: X_TITLE, nameLocation: 'middle', nameGap: p.xGap, nameMoveOverlap: false,
    nameTextStyle: { fontSize: 10.2, fontFamily: SANS, color: INK }
  });
  // minor x ticks
  xAxes.push({
    type: 'value', gridIndex: i, position: 'bottom', min: p.x[0], max: p.x[1],
    axisLine: { show: false, onZero: false },
    axisTick: { show: true, inside: false, length: 2, customValues: inRange(xMinorTicks, p.x), lineStyle: { color: '#000', width: 1 } },
    axisLabel: { show: false }, splitLine: { show: false }
  });

  // main y axis
  yAxes.push({
    type: 'value', gridIndex: i, position: 'left', min: p.y[0], max: p.y[1],
    axisLine: { show: true, onZero: false, lineStyle: { color: '#000', width: 1 } },
    axisTick: { show: true, inside: false, length: 4, customValues: inRange(p.yTicks, p.y), lineStyle: { color: '#000', width: 1 } },
    axisLabel: { show: true, customValues: inRange(p.yTicks, p.y), formatter: v => p.dec ? v.toFixed(p.dec) : String(Math.round(v)), fontSize: 7.8, fontFamily: SANS, color: INK, margin: 6 },
    splitLine: { show: false },
    name: p.yName, nameLocation: 'middle', nameGap: p.yGap, nameMoveOverlap: false,
    nameTextStyle: { fontSize: 10.2, fontFamily: SANS, color: INK }
  });
  // minor y ticks
  yAxes.push({
    type: 'value', gridIndex: i, position: 'left', min: p.y[0], max: p.y[1],
    axisLine: { show: false, onZero: false },
    axisTick: { show: true, inside: false, length: 2, customValues: inRange(p.yMinor, p.y), lineStyle: { color: '#000', width: 1 } },
    axisLabel: { show: false }, splitLine: { show: false }
  });

  series.push({
    type: 'line', name: p.name, xAxisIndex: 2 * i, yAxisIndex: 2 * i,
    data: p.data, showSymbol: false, symbol: 'none', smooth: false,
    lineStyle: { color: '#000', width: p.lw }, itemStyle: { color: '#000' },
    silent: true, animation: false, clip: true
  });

  legends.push({
    data: [p.name], left: p.legend[0], top: p.legend[1], orient: 'horizontal',
    icon: 'rect', itemWidth: 20, itemHeight: 1, itemGap: 0,
    padding: [1, 2, 1, 2], borderColor: '#000', borderWidth: 1, backgroundColor: '#fff',
    selectedMode: false, itemStyle: { color: '#000', borderWidth: 0 },
    textStyle: { fontSize: 10, fontFamily: SANS, color: '#000', lineHeight: 10 }
  });
});

// column headings and row letters
const txt = (s, x, y) => ({
  type: 'text', x: x, y: y, z: 100, silent: true,
  style: { text: s, font: '36px ' + SERIF, fontSize: 36, fontFamily: SERIF, fill: '#000',
           align: 'center', verticalAlign: 'middle', textAlign: 'center', textVerticalAlign: 'middle' }
});
const graphic = [
  txt('Argônio', 247, 29),
  txt('Ar comprimido', 633, 29),
  txt('Argônio +', 1012, 29),
  txt('Ar comprimido', 1015, 70.5),
  txt('a)', 45, 132),
  txt('b', 27, 385),
  txt(')', 27, 427),
  txt('c)', 45, 623)
];

const chart = echarts.init(document.getElementById('chart'), null, { renderer: 'svg', width: 1144, height: 836 });
chart.setOption({
  backgroundColor: '#fff',
  animation: false,
  grid: grids,
  xAxis: xAxes,
  yAxis: yAxes,
  legend: legends,
  series: series,
  graphic: graphic
});
</script>
</body>
</html>
